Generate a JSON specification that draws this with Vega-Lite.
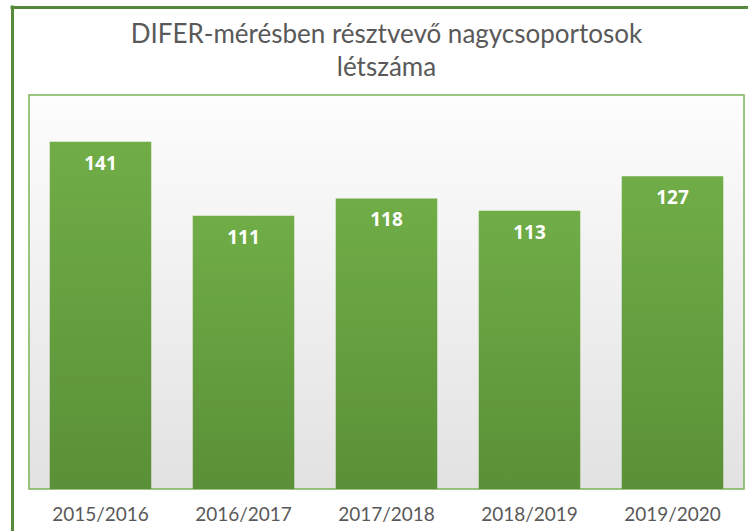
{
  "$schema": "https://vega.github.io/schema/vega-lite/v6.json",
  "width": 715,
  "height": 394,
  "autosize": "none",
  "padding": {"left": 29, "top": 95, "right": 4, "bottom": 42},
  "background": "#ffffff",
  "title": {
    "text": ["DIFER-mérésben résztvevő nagycsoportosok", "létszáma"],
    "font": "Lato",
    "fontSize": 26,
    "fontWeight": "normal",
    "color": "#595959",
    "lineHeight": 33,
    "offset": -74,
    "anchor": "middle"
  },
  "data": {
    "values": [
      {"ev": "2015/2016", "letszam": 141},
      {"ev": "2016/2017", "letszam": 111},
      {"ev": "2017/2018", "letszam": 118},
      {"ev": "2018/2019", "letszam": 113},
      {"ev": "2019/2020", "letszam": 127}
    ]
  },
  "layer": [
    {
      "encoding": {
        "x": {
          "field": "ev",
          "type": "nominal",
          "sort": null,
          "scale": {"paddingInner": 0.29, "paddingOuter": 0.145},
          "axis": {
            "title": null,
            "labelAngle": 0,
            "labelFontSize": 19,
            "labelColor": "#595959",
            "labelFont": "Lato",
            "domain": false,
            "ticks": false,
            "labelPadding": 16
          }
        },
        "y": {
          "field": "letszam",
          "type": "quantitative",
          "scale": {"domain": [0, 160]},
          "axis": null
        }
      },
      "layer": [
        {
          "mark": {
            "type": "bar",
            "color": {
              "gradient": "linear",
              "x1": 0, "y1": 0, "x2": 0, "y2": 1,
              "stops": [
                {"offset": 0, "color": "#70ad47"},
                {"offset": 1, "color": "#5a9037"}
              ]
            }
          }
        },
        {
          "mark": {
            "type": "text",
            "baseline": "alphabetic",
            "dy": 28,
            "color": "#ffffff",
            "fontSize": 19,
            "fontWeight": "bold",
            "font": "Open Sans"
          },
          "encoding": {"text": {"field": "letszam", "type": "quantitative"}}
        }
      ]
    },
    {
      "mark": {"type": "point", "opacity": 0, "size": 0},
      "encoding": {
        "x": {
          "datum": 0,
          "type": "quantitative",
          "scale": {"domain": [0, 1], "range": [-19, 719]},
          "axis": {"orient": "top", "offset": 88, "domainColor": "#57893a", "domainWidth": 3, "labels": false, "ticks": false, "grid": false, "title": null}
        },
        "y": {
          "datum": 0,
          "type": "quantitative",
          "scale": {"domain": [0, 1], "range": [436, -90]},
          "axis": {"orient": "left", "offset": 17, "domainColor": "#57893a", "domainWidth": 3, "labels": false, "ticks": false, "grid": false, "title": null}
        }
      }
    }
  ],
  "resolve": {"scale": {"x": "independent", "y": "independent"}, "axis": {"x": "independent", "y": "independent"}},
  "config": {
    "view": {
      "stroke": "#7db35a",
      "strokeWidth": 1.5,
      "fill": {
        "gradient": "linear",
        "x1": 0, "y1": 0, "x2": 0, "y2": 1,
        "stops": [
          {"offset": 0, "color": "#fdfdfd"},
          {"offset": 1, "color": "#e2e2e2"}
        ]
      }
    }
  }
}
